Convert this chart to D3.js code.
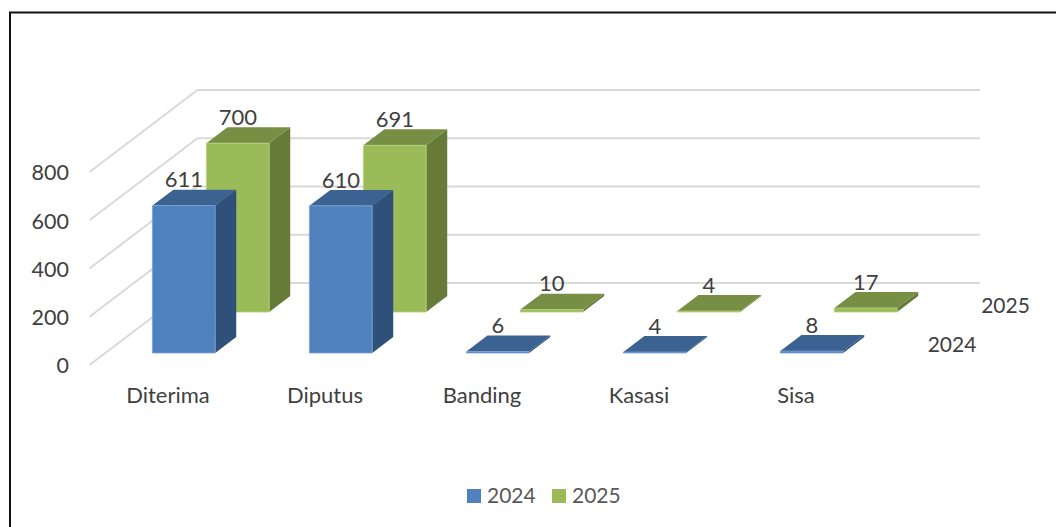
<!DOCTYPE html>
<html><head><meta charset="utf-8">
<script src="https://cdn.jsdelivr.net/npm/d3@7/dist/d3.min.js"></script>
<style>
html,body{margin:0;padding:0;background:#fff;overflow:hidden}
svg{display:block}
text{font-family:Lato,"Open Sans",sans-serif}
</style></head><body>
<svg id="c" width="1056" height="527"></svg>
<script>
const categories = ["Diterima","Diputus","Banding","Kasasi","Sisa"];
const seriesNames = ["2024","2025"];
const values2024 = [611,610,6,4,8];
const values2025 = [700,691,10,4,17];
const yTicks = [0,200,400,600,800];

const seriesColors = {
  "2024": {front:"#4f81bd", top:"#3c6292", side:"#2f5179", edge:"#7fa5d6"},
  "2025": {front:"#9bbb59", top:"#778e45", side:"#657b37", edge:"#b5d27a"}
};
const seriesValues = {"2024":values2024,"2025":values2025};
const depthStart = {"2024":0.146,"2025":0.646};
const depthBar = 0.195;

const svg = d3.select("#c");
const W = 1056, H = 527;

// Scales
const x = d3.scaleBand().domain(categories).range([89.5,874.5]).paddingInner(0.6).paddingOuter(0.3);
const yFront = 365;
const y = d3.scaleLinear().domain([0,800]).range([yFront,yFront-193]);
const depth = {dx:108, dy:-82};
const wallRight = 980;

const pt = (px,val,d)=>[px + d*depth.dx, y(val) + d*depth.dy];
const poly = pts=>pts.map(p=>p.join(",")).join(" ");

// Frame
svg.append("path").attr("d",`M${W},12.5H10V${H}`).attr("fill","none")
  .attr("stroke","#111").attr("stroke-width",2);

// Grid
const grid = svg.append("g").attr("fill","none").attr("stroke","#d9d9d9").attr("stroke-width",2);
yTicks.forEach(t=>{
  const a=[x.range()[0],y(t)], b=pt(x.range()[0],t,1);
  grid.append("polyline").attr("points",poly([a,b,[wallRight,b[1]]]));
});

// Bars: back series first
[...seriesNames].reverse().forEach(s=>{
  const col=seriesColors[s], d0=depthStart[s], d1=d0+depthBar;
  const g=svg.append("g");
  categories.forEach((c,i)=>{
    const v=seriesValues[s][i], L=x(c), R=L+x.bandwidth();
    g.append("polygon").attr("fill",col.side)
      .attr("points",poly([pt(R,0,d0),pt(R,v,d0),pt(R,v,d1),pt(R,0,d1)]));
    g.append("polygon").attr("fill",col.top)
      .attr("points",poly([pt(L,v,d0),pt(R,v,d0),pt(R,v,d1),pt(L,v,d1)]));
    g.append("polygon").attr("fill",col.front).attr("stroke",col.edge).attr("stroke-width",0.8)
      .attr("points",poly([pt(L,0,d0),pt(R,0,d0),pt(R,v,d0),pt(L,v,d0)]));
  });
});

// Data labels
seriesNames.forEach(s=>{
  const d0=depthStart[s], d1=d0+depthBar;
  categories.forEach((c,i)=>{
    const v=seriesValues[s][i];
    const cx=x(c)+x.bandwidth()/2;
    const p=pt(cx,v,d1);
    svg.append("text").attr("x",p[0]-21).attr("y",p[1]-10)
      .attr("dy","0.35em").attr("text-anchor","middle")
      .attr("font-size",22).attr("fill","#404040").text(v);
  });
});

// Axis: values
const yAxis = svg.append("g").attr("transform","translate(69,1)")
  .call(d3.axisLeft(y).tickValues(yTicks).tickSize(0).tickPadding(0));
yAxis.select(".domain").remove();
yAxis.selectAll("text").attr("font-size",21.5).attr("fill","#404040").attr("font-family","Lato");

// Axis: categories
const xAxis = svg.append("g").attr("transform","translate(0,387)")
  .call(d3.axisBottom(x).tickSize(0).tickPadding(0));
xAxis.select(".domain").remove();
xAxis.selectAll("text").attr("font-size",22).attr("fill","#404040").attr("font-family","Lato");

// Depth axis labels
const depthLabels=[["2024",952,345],["2025",1005.5,306]];
depthLabels.forEach(([t,a,b])=>{
  svg.append("text").attr("x",a).attr("y",b).attr("dy","0.35em").attr("text-anchor","middle")
    .attr("font-size",21).attr("fill","#404040").text(t);
});

// Legend
const leg = svg.append("g");
const legendX = d3.scalePoint().domain(seriesNames).range([467,552]);
seriesNames.forEach(s=>{
  leg.append("rect").attr("x",legendX(s)).attr("y",489).attr("width",14).attr("height",14)
    .attr("fill",seriesColors[s].front);
  leg.append("text").attr("x",legendX(s)+20).attr("y",496).attr("dy","0.35em")
    .attr("font-size",21).attr("fill","#595959").text(s);
});
</script>
</body></html>
